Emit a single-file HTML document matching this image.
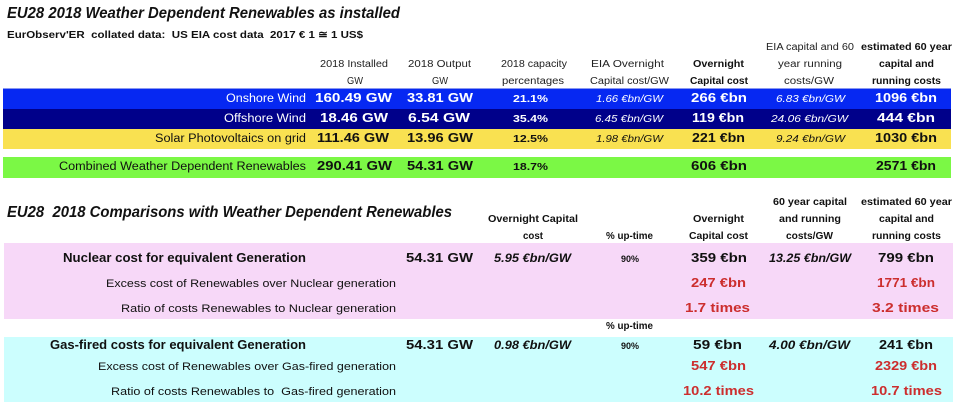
<!DOCTYPE html>
<html>
<head>
<meta charset="utf-8">
<style>
html,body{margin:0;padding:0;background:#fff;}
svg{display:block;}
text{font-family:"Liberation Sans",sans-serif;}
.t{font-weight:bold;font-style:italic;font-size:15.5px;fill:#111;}
.st{font-weight:bold;font-size:10.5px;fill:#111;}
.h{font-size:10px;fill:#222;}
.hb{font-size:10px;font-weight:bold;fill:#111;}
.lab{font-size:11.5px;}
.v{font-size:12.5px;font-weight:bold;}
.p{font-size:10.5px;font-weight:bold;}
.i{font-size:10px;font-style:italic;}
.bi{font-size:11.5px;font-style:italic;font-weight:bold;fill:#111;}
.w{fill:#fff;}
.k{fill:#111;}
.r{fill:#CC2E2E;}
.sm{font-size:9px;font-weight:bold;fill:#111;}
.l2{font-size:11px;fill:#111;}
</style>
</head>
<body>
<svg width="960" height="409" viewBox="0 0 960 409" xmlns="http://www.w3.org/2000/svg">
<!-- bands top -->
<rect x="3" y="89" width="948" height="20" fill="#0628F2"/>
<rect x="3" y="88" width="948" height="1" fill="#8a98f0"/>
<rect x="3" y="109" width="948" height="20" fill="#00008A"/>
<rect x="3" y="129" width="948" height="20" fill="#F9E151"/>
<rect x="3" y="157" width="948" height="21" fill="#7BF845"/>
<!-- bands bottom -->
<rect x="4" y="243" width="949" height="76" fill="#F7D8F8"/>
<rect x="4" y="337" width="949" height="65" fill="#CCFEFE"/>

<g>
<text class="t" x="7" y="18" textLength="393" lengthAdjust="spacingAndGlyphs">EU28 2018 Weather Dependent Renewables as installed</text>
<text class="st" x="7" y="38" textLength="356" lengthAdjust="spacingAndGlyphs" xml:space="preserve">EurObserv'ER  collated data:  US EIA cost data  2017 € 1 ≅ 1 US$</text>

<!-- headers top -->
<text class="h" x="320" y="67" textLength="68" lengthAdjust="spacingAndGlyphs">2018 Installed</text>
<text class="h" x="347" y="84" textLength="16" lengthAdjust="spacingAndGlyphs">GW</text>
<text class="h" x="408" y="67" textLength="63" lengthAdjust="spacingAndGlyphs">2018 Output</text>
<text class="h" x="432" y="84" textLength="16" lengthAdjust="spacingAndGlyphs">GW</text>
<text class="h" x="501" y="67" textLength="66" lengthAdjust="spacingAndGlyphs">2018 capacity</text>
<text class="h" x="502" y="84" textLength="62" lengthAdjust="spacingAndGlyphs">percentages</text>
<text class="h" x="591" y="67" textLength="73" lengthAdjust="spacingAndGlyphs">EIA Overnight</text>
<text class="h" x="590" y="84" textLength="79" lengthAdjust="spacingAndGlyphs">Capital cost/GW</text>
<text class="hb" x="693" y="67" textLength="51" lengthAdjust="spacingAndGlyphs">Overnight</text>
<text class="hb" x="690" y="84" textLength="58" lengthAdjust="spacingAndGlyphs">Capital cost</text>
<text class="h" x="766" y="50" textLength="88" lengthAdjust="spacingAndGlyphs">EIA capital and 60</text>
<text class="h" x="778" y="67" textLength="64" lengthAdjust="spacingAndGlyphs">year running</text>
<text class="h" x="784" y="84" textLength="50" lengthAdjust="spacingAndGlyphs">costs/GW</text>
<text class="hb" x="861" y="50" textLength="91" lengthAdjust="spacingAndGlyphs">estimated 60 year</text>
<text class="hb" x="879" y="67" textLength="55" lengthAdjust="spacingAndGlyphs">capital and</text>
<text class="hb" x="872" y="84" textLength="69" lengthAdjust="spacingAndGlyphs">running costs</text>

<!-- row 1 -->
<text class="lab w" x="226" y="102" textLength="80" lengthAdjust="spacingAndGlyphs">Onshore Wind</text>
<text class="v w" x="315" y="102" textLength="77" lengthAdjust="spacingAndGlyphs">160.49 GW</text>
<text class="v w" x="407" y="102" textLength="66" lengthAdjust="spacingAndGlyphs">33.81 GW</text>
<text class="p w" x="513" y="102" textLength="35" lengthAdjust="spacingAndGlyphs">21.1%</text>
<text class="i w" x="596" y="102" textLength="67" lengthAdjust="spacingAndGlyphs">1.66 €bn/GW</text>
<text class="v w" x="691" y="102" textLength="56" lengthAdjust="spacingAndGlyphs">266 €bn</text>
<text class="i w" x="776" y="102" textLength="69" lengthAdjust="spacingAndGlyphs">6.83 €bn/GW</text>
<text class="v w" x="875" y="102" textLength="62" lengthAdjust="spacingAndGlyphs">1096 €bn</text>
<!-- row 2 -->
<text class="lab w" x="224" y="122" textLength="82" lengthAdjust="spacingAndGlyphs">Offshore Wind</text>
<text class="v w" x="320" y="122" textLength="68" lengthAdjust="spacingAndGlyphs">18.46 GW</text>
<text class="v w" x="408" y="122" textLength="62" lengthAdjust="spacingAndGlyphs">6.54 GW</text>
<text class="p w" x="513" y="122" textLength="35" lengthAdjust="spacingAndGlyphs">35.4%</text>
<text class="i w" x="595" y="122" textLength="68" lengthAdjust="spacingAndGlyphs">6.45 €bn/GW</text>
<text class="v w" x="692" y="122" textLength="52" lengthAdjust="spacingAndGlyphs">119 €bn</text>
<text class="i w" x="771" y="122" textLength="77" lengthAdjust="spacingAndGlyphs">24.06 €bn/GW</text>
<text class="v w" x="877" y="122" textLength="58" lengthAdjust="spacingAndGlyphs">444 €bn</text>
<!-- row 3 -->
<text class="lab k" x="155" y="142" textLength="151" lengthAdjust="spacingAndGlyphs">Solar Photovoltaics on grid</text>
<text class="v k" x="317" y="142" textLength="72" lengthAdjust="spacingAndGlyphs">111.46 GW</text>
<text class="v k" x="407" y="142" textLength="66" lengthAdjust="spacingAndGlyphs">13.96 GW</text>
<text class="p k" x="513" y="142" textLength="35" lengthAdjust="spacingAndGlyphs">12.5%</text>
<text class="i k" x="596" y="142" textLength="67" lengthAdjust="spacingAndGlyphs">1.98 €bn/GW</text>
<text class="v k" x="692" y="142" textLength="53" lengthAdjust="spacingAndGlyphs">221 €bn</text>
<text class="i k" x="776" y="142" textLength="69" lengthAdjust="spacingAndGlyphs">9.24 €bn/GW</text>
<text class="v k" x="875" y="142" textLength="62" lengthAdjust="spacingAndGlyphs">1030 €bn</text>
<!-- row 4 -->
<text class="lab k" x="59" y="170" textLength="247" lengthAdjust="spacingAndGlyphs">Combined Weather Dependent Renewables</text>
<text class="v k" x="317" y="170" textLength="75" lengthAdjust="spacingAndGlyphs">290.41 GW</text>
<text class="v k" x="407" y="170" textLength="66" lengthAdjust="spacingAndGlyphs">54.31 GW</text>
<text class="p k" x="513" y="170" textLength="35" lengthAdjust="spacingAndGlyphs">18.7%</text>
<text class="v k" x="691" y="170" textLength="56" lengthAdjust="spacingAndGlyphs">606 €bn</text>
<text class="v k" x="876" y="170" textLength="60" lengthAdjust="spacingAndGlyphs">2571 €bn</text>

<!-- bottom section -->
<text class="t" x="7" y="217" textLength="445" lengthAdjust="spacingAndGlyphs" xml:space="preserve">EU28  2018 Comparisons with Weather Dependent Renewables</text>

<text class="hb" x="488" y="222" textLength="90" lengthAdjust="spacingAndGlyphs">Overnight Capital</text>
<text class="hb" x="523" y="239" textLength="20" lengthAdjust="spacingAndGlyphs">cost</text>
<text class="hb" x="606" y="239" textLength="47" lengthAdjust="spacingAndGlyphs">% up-time</text>
<text class="hb" x="693" y="222" textLength="51" lengthAdjust="spacingAndGlyphs">Overnight</text>
<text class="hb" x="689" y="239" textLength="59" lengthAdjust="spacingAndGlyphs">Capital cost</text>
<text class="hb" x="773" y="205" textLength="74" lengthAdjust="spacingAndGlyphs">60 year capital</text>
<text class="hb" x="779" y="222" textLength="62" lengthAdjust="spacingAndGlyphs">and running</text>
<text class="hb" x="786" y="239" textLength="47" lengthAdjust="spacingAndGlyphs">costs/GW</text>
<text class="hb" x="861" y="205" textLength="91" lengthAdjust="spacingAndGlyphs">estimated 60 year</text>
<text class="hb" x="879" y="222" textLength="55" lengthAdjust="spacingAndGlyphs">capital and</text>
<text class="hb" x="872" y="239" textLength="69" lengthAdjust="spacingAndGlyphs">running costs</text>

<!-- nuclear -->
<text class="v k" x="63" y="262" textLength="243" lengthAdjust="spacingAndGlyphs">Nuclear cost for equivalent Generation</text>
<text class="v k" x="406" y="262" textLength="67" lengthAdjust="spacingAndGlyphs">54.31 GW</text>
<text class="bi" x="494" y="262" textLength="77" lengthAdjust="spacingAndGlyphs">5.95 €bn/GW</text>
<text class="sm" x="621" y="262" textLength="18" lengthAdjust="spacingAndGlyphs">90%</text>
<text class="v k" x="691" y="262" textLength="56" lengthAdjust="spacingAndGlyphs">359 €bn</text>
<text class="bi" x="769" y="262" textLength="82" lengthAdjust="spacingAndGlyphs">13.25 €bn/GW</text>
<text class="v k" x="878" y="262" textLength="56" lengthAdjust="spacingAndGlyphs">799 €bn</text>

<text class="l2" x="106" y="287" textLength="290" lengthAdjust="spacingAndGlyphs">Excess cost of Renewables over Nuclear generation</text>
<text class="v r" x="691" y="287" textLength="55" lengthAdjust="spacingAndGlyphs">247 €bn</text>
<text class="v r" x="877" y="287" textLength="58" lengthAdjust="spacingAndGlyphs">1771 €bn</text>

<text class="l2" x="121" y="312" textLength="275" lengthAdjust="spacingAndGlyphs">Ratio of costs Renewables to Nuclear generation</text>
<text class="v r" x="685" y="312" textLength="65" lengthAdjust="spacingAndGlyphs">1.7 times</text>
<text class="v r" x="872" y="312" textLength="67" lengthAdjust="spacingAndGlyphs">3.2 times</text>

<text class="hb" x="606" y="329" textLength="47" lengthAdjust="spacingAndGlyphs">% up-time</text>

<!-- gas -->
<text class="v k" x="50" y="349" textLength="256" lengthAdjust="spacingAndGlyphs">Gas-fired costs for equivalent Generation</text>
<text class="v k" x="406" y="349" textLength="67" lengthAdjust="spacingAndGlyphs">54.31 GW</text>
<text class="bi" x="494" y="349" textLength="77" lengthAdjust="spacingAndGlyphs">0.98 €bn/GW</text>
<text class="sm" x="621" y="349" textLength="18" lengthAdjust="spacingAndGlyphs">90%</text>
<text class="v k" x="693" y="349" textLength="49" lengthAdjust="spacingAndGlyphs">59 €bn</text>
<text class="bi" x="769" y="349" textLength="81" lengthAdjust="spacingAndGlyphs">4.00 €bn/GW</text>
<text class="v k" x="879" y="349" textLength="54" lengthAdjust="spacingAndGlyphs">241 €bn</text>

<text class="l2" x="98" y="370" textLength="298" lengthAdjust="spacingAndGlyphs">Excess cost of Renewables over Gas-fired generation</text>
<text class="v r" x="691" y="370" textLength="55" lengthAdjust="spacingAndGlyphs">547 €bn</text>
<text class="v r" x="875" y="370" textLength="62" lengthAdjust="spacingAndGlyphs">2329 €bn</text>

<text class="l2" x="111" y="395" textLength="285" lengthAdjust="spacingAndGlyphs" xml:space="preserve">Ratio of costs Renewables to  Gas-fired generation</text>
<text class="v r" x="683" y="395" textLength="71" lengthAdjust="spacingAndGlyphs">10.2 times</text>
<text class="v r" x="871" y="395" textLength="71" lengthAdjust="spacingAndGlyphs">10.7 times</text>
</g>
</svg>
</body>
</html>
